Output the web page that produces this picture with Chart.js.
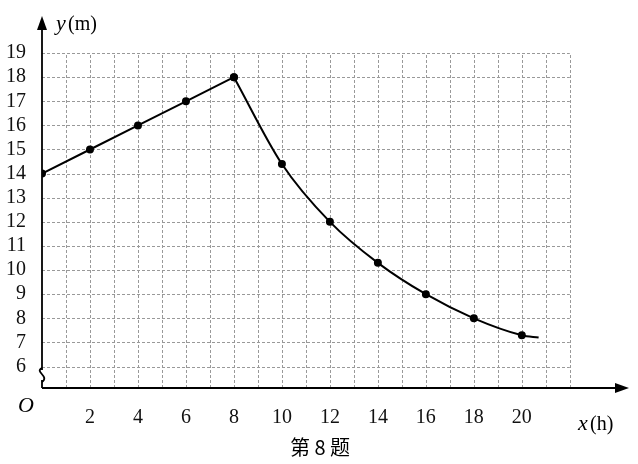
<!DOCTYPE html><html><head><meta charset="utf-8">
<script src="https://cdn.jsdelivr.net/npm/chart.js@4"></script>
<style>html,body{margin:0;background:#fff}#w{width:638px;height:464px}</style></head><body>
<div id="w"><canvas id="c"></canvas></div>
<script>
const xLine=[0,2,4,6,8];
const yLine=[14,15,16,17,18];
const xCurve=[8,10,12,14,16,18,20,20.7];
const yCurve=[18,14.4,12,10.3,9,8,7.3,7.2];
const yTicks=[6,7,8,9,10,11,12,13,14,15,16,17,18,19];
const xTicks=[0,1,2,3,4,5,6,7,8,9,10,11,12,13,14,15,16,17,18,19,20,21,22];
const serif='"Liberation Serif","DejaVu Serif",serif';
const grid={id:'grid',beforeDatasetsDraw(ch){
 const c=ch.ctx,a=ch.chartArea,xs=ch.scales.x,ys=ch.scales.y;
 const x0=xs.getPixelForValue(0),x1=xs.getPixelForValue(22),y0=a.bottom,y1=ys.getPixelForValue(19);
 c.save();c.strokeStyle='#999';c.lineWidth=1;c.setLineDash([3,2]);c.beginPath();
 xTicks.forEach(v=>{if(v>0){const p=Math.round(xs.getPixelForValue(v))+0.5;c.moveTo(p,y0);c.lineTo(p,y1);}});
 yTicks.forEach(v=>{const p=Math.round(ys.getPixelForValue(v))+0.5;c.moveTo(x0,p);c.lineTo(x1,p);});
 c.stroke();c.restore();}};
const deco={id:'deco',afterDraw(ch){
 const c=ch.ctx,a=ch.chartArea,xs=ch.scales.x;
 const x0=xs.getPixelForValue(0),yb=a.bottom;
 c.save();c.strokeStyle='#000';c.fillStyle='#000';c.lineWidth=1.8;
 c.beginPath();c.moveTo(x0,yb);c.lineTo(a.right-4,yb);c.moveTo(x0,yb);c.lineTo(x0,a.top+6);c.stroke();
 c.beginPath();c.moveTo(a.right+4,yb);c.lineTo(a.right-10,yb-5);c.lineTo(a.right-10,yb+5);c.fill();
 c.beginPath();c.moveTo(x0,a.top-4);c.lineTo(x0-5,a.top+10);c.lineTo(x0+5,a.top+10);c.fill();
 c.fillStyle='#fff';c.fillRect(x0-3,370,6,10);
 c.beginPath();c.moveTo(x0,368);c.bezierCurveTo(x0-8,372,x0+8,376,x0,382);c.stroke();
 c.fillStyle='#000';c.font='italic 22px '+serif;c.textBaseline='alphabetic';
 c.fillText('O',18,412);
 c.fillText('y',56,30);c.fillText('x',578,430);
 c.font='20px '+serif;c.fillText('(m)',68,30);c.fillText('(h)',590,430);
 c.font='20px "Noto Sans CJK SC"';c.textAlign='center';c.fillText('第 8 题',320,455);
 c.restore();}};
new Chart(document.getElementById('c'),{type:'scatter',
 data:{datasets:[
  {data:xLine.map((x,i)=>({x,y:yLine[i]})),showLine:true,borderColor:'#000',backgroundColor:'#000',borderWidth:2,pointRadius:3,tension:0},
  {data:xCurve.map((x,i)=>({x,y:yCurve[i]})),showLine:true,borderColor:'#000',backgroundColor:'#000',borderWidth:2,cubicInterpolationMode:'monotone',
   pointRadius:ctx=>ctx.dataIndex===xCurve.length-1?0:3}
 ]},
 plugins:[grid,deco],
 options:{animation:false,responsive:true,maintainAspectRatio:false,
  layout:{padding:{top:2,right:13,left:0,bottom:0}},
  plugins:{legend:{display:false},tooltip:{enabled:false}},
  scales:{
   x:{type:'linear',min:0,max:24.3,afterBuildTicks:s=>{s.ticks=xTicks.map(v=>({value:v}))},afterFit:s=>{s.height=76},
    border:{display:false},grid:{display:false},
    ticks:{autoSkip:false,maxRotation:0,padding:10,color:'#111',font:{family:serif,size:20},callback:v=>(v>0&&v%2===0&&v<=20)?v:''}},
   y:{type:'linear',min:5.11,max:20.37,afterBuildTicks:s=>{s.ticks=yTicks.map(v=>({value:v}))},afterFit:s=>{s.width=42},
    border:{display:false},grid:{display:false},
    ticks:{autoSkip:false,padding:8,color:'#111',font:{family:serif,size:20}}}
  }}});
</script></body></html>
